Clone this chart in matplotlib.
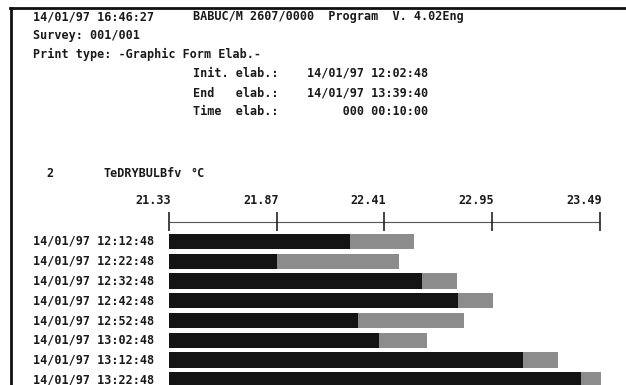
import matplotlib
matplotlib.use("Agg")
import matplotlib.pyplot as plt
from matplotlib.lines import Line2D

# data
times = ["14/01/97 12:12:48", "14/01/97 12:22:48", "14/01/97 12:32:48",
         "14/01/97 12:42:48", "14/01/97 12:52:48", "14/01/97 13:02:48",
         "14/01/97 13:12:48", "14/01/97 13:22:48"]
mean_vals = [22.235, 21.87, 22.60, 22.78, 22.275, 22.38, 23.105, 23.395]
max_vals = [22.56, 22.485, 22.775, 22.955, 22.81, 22.625, 23.28, 23.495]
scale_ticks = [21.33, 21.87, 22.41, 22.95, 23.49]
scale_labels = ["21.33", "21.87", "22.41", "22.95", "23.49"]

W, H = 626, 385
fig = plt.figure(figsize=(W / 100, H / 100), dpi=100)
ax = fig.add_axes([0, 0, 1, 1])
ax.axis("off")

# map the scale so 21.33 sits at x=169px and 23.49 at x=600px
ppu = (600 - 169) / (scale_ticks[-1] - scale_ticks[0])
x_lo = scale_ticks[0] - 169 / ppu
x_hi = scale_ticks[0] + (W - 169) / ppu
ax.set_xlim(x_lo, x_hi)
# rows: first row centre at 241.5px, pitch 19.75px
pitch = 19.75
y0 = 241.5
ax.set_ylim((H - y0) / pitch, -y0 / pitch)

mono = dict(family="DejaVu Sans Mono", fontsize=8.5, color="#1a1a1a",
            fontweight="bold")


def ftext(x, y, s, **kw):
    opts = dict(mono)
    opts.update(kw)
    fig.text(x / W, 1 - y / H, s, va="center", **opts)


# header
ftext(33, 16.5, "14/01/97 16:46:27")
ftext(193, 16.5, "BABUC/M 2607/0000  Program  V. 4.02Eng")
ftext(33, 35.5, "Survey: 001/001")
ftext(33, 54.5, "Print type: -Graphic Form Elab.-")
ftext(193, 73.5, "Init. elab.:    14/01/97 12:02:48")
ftext(193, 92.5, "End   elab.:    14/01/97 13:39:40")
ftext(193, 111.5, "Time  elab.:         000 00:10:00")
ftext(46, 173, "2")
ftext(103, 173, "TeDRYBULBfv")
ftext(190, 173, "°C")

# frame lines of the printout
fig.add_artist(Line2D([10 / W, 1], [1 - 8 / H, 1 - 8 / H], transform=fig.transFigure,
                      color="#111111", lw=2))
fig.add_artist(Line2D([11 / W, 11 / W], [1 - 8 / H, 0], transform=fig.transFigure,
                      color="#111111", lw=2))

# scale line with ticks
ax.hlines(-1.0, scale_ticks[0], scale_ticks[-1], color="#555555", lw=0.8)
ax.vlines(scale_ticks, -1.5, -0.55, color="#111111", lw=1.1)
for t, lab in zip(scale_ticks, scale_labels):
    ax.text(t + 2 / ppu, -2.1, lab, ha="right", va="center", **mono)

# bars
rows = list(range(len(times)))
base = scale_ticks[0]
ax.barh(rows, [m - base for m in mean_vals], left=base, height=0.76,
        color="#141414", edgecolor="none")
ax.barh(rows, [mx - m for m, mx in zip(mean_vals, max_vals)], left=mean_vals,
        height=0.76, color="#8c8c8c", edgecolor="none")
for r, t in zip(rows, times):
    ax.text(x_lo + 33 / ppu, r, t, ha="left", va="center", **mono)

fig.savefig("out.png", dpi=100)
